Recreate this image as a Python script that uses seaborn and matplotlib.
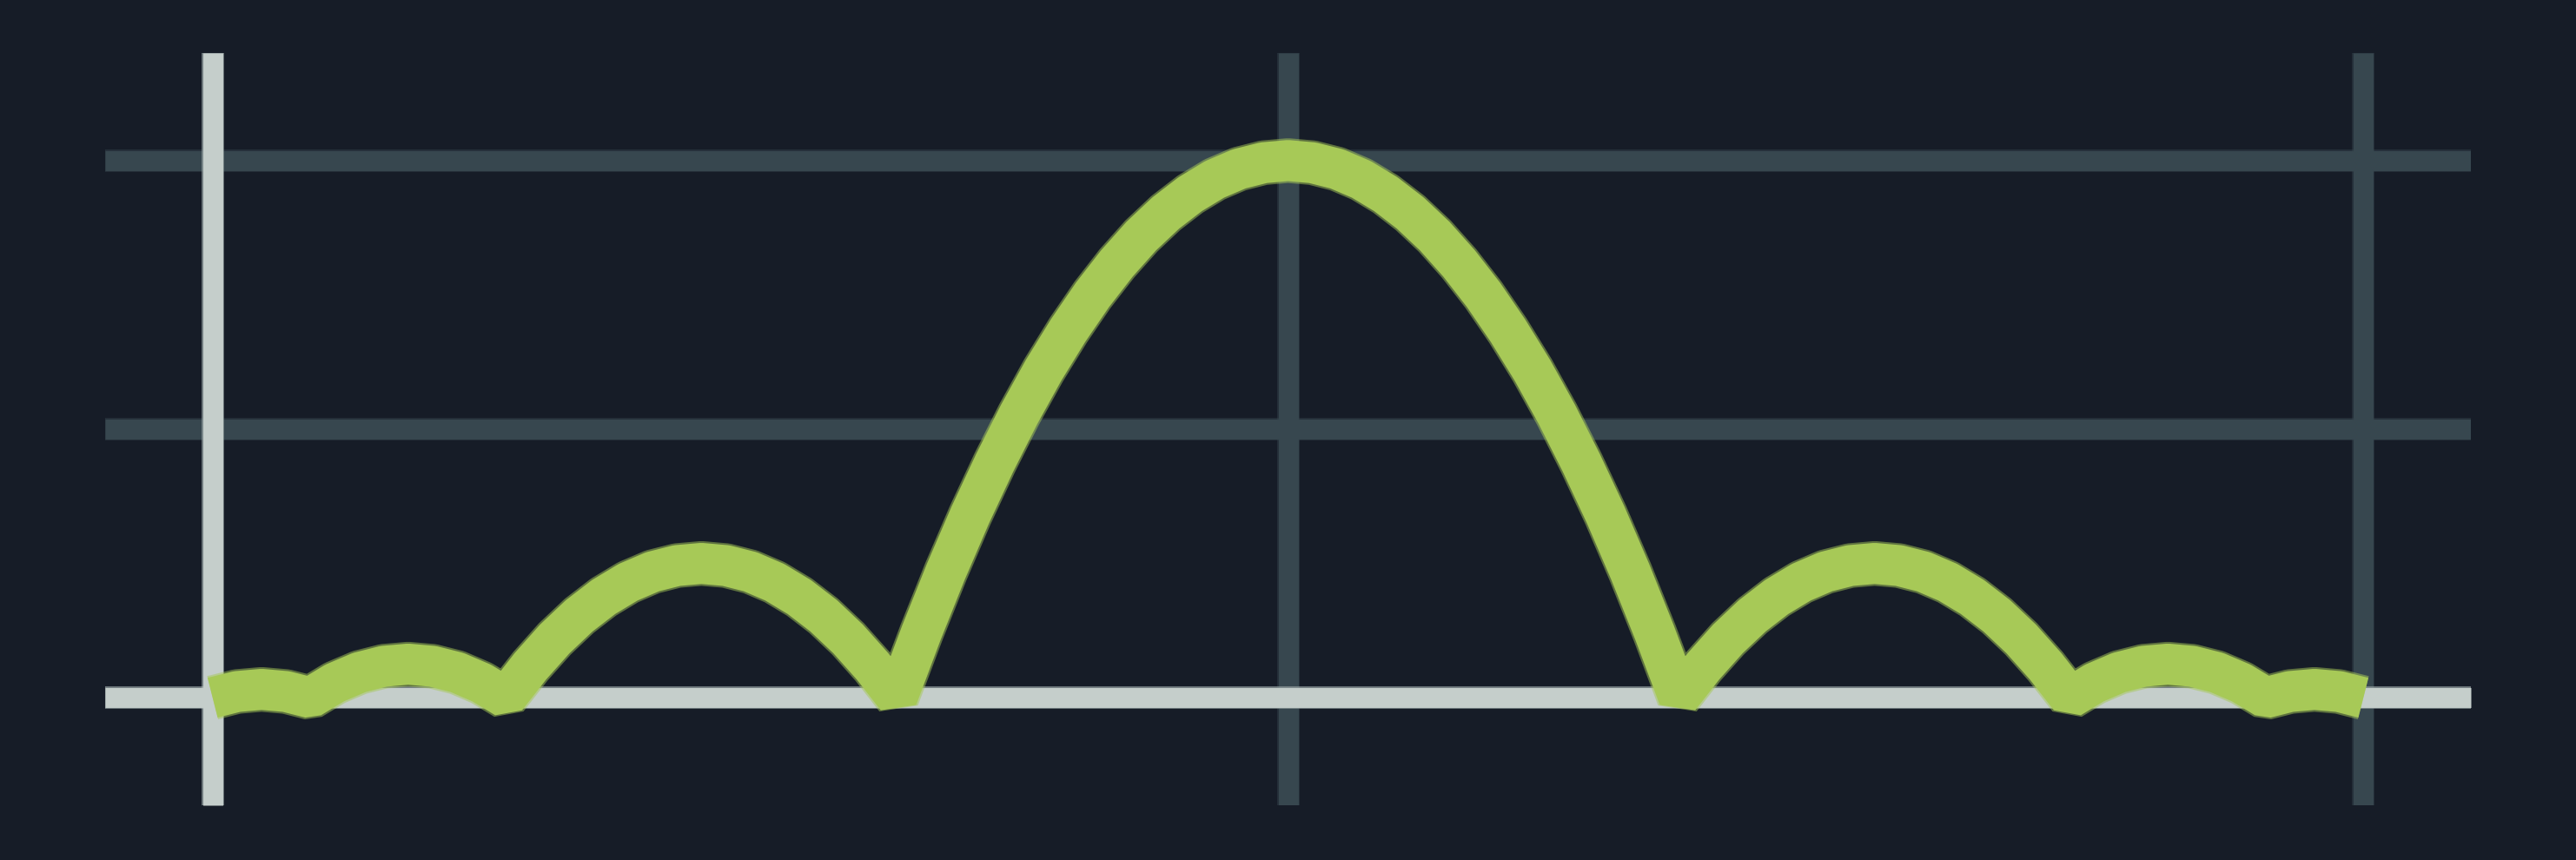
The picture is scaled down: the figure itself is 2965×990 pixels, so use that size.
import numpy as np
import seaborn as sns
import matplotlib.pyplot as plt
import matplotlib.patheffects as pe

# values (symmetric bounce curve)
x_vals = [-1.0, -0.9773, -0.9545, -0.9318, -0.9091, -0.8864, -0.8636, -0.8409, -0.8182,
          -0.7955, -0.7727, -0.75, -0.7273, -0.7045, -0.6818, -0.6591, -0.6364, -0.6136,
          -0.5909, -0.5682, -0.5455, -0.5227, -0.5, -0.4773, -0.4545, -0.4318, -0.4091,
          -0.3864, -0.3636, -0.3409, -0.3182, -0.2955, -0.2727, -0.25, -0.2273, -0.2045,
          -0.1818, -0.1591, -0.1364, -0.1136, -0.0909, -0.0682, -0.0455, -0.0227, 0.0,
          0.0227, 0.0455, 0.0682, 0.0909, 0.1136, 0.1364, 0.1591, 0.1818, 0.2045,
          0.2273, 0.25, 0.2727, 0.2955, 0.3182, 0.3409, 0.3636, 0.3864, 0.4091,
          0.4318, 0.4545, 0.4773, 0.5, 0.5227, 0.5455, 0.5682, 0.5909, 0.6136,
          0.6364, 0.6591, 0.6818, 0.7045, 0.7273, 0.75, 0.7727, 0.7955, 0.8182,
          0.8409, 0.8636, 0.8864, 0.9091, 0.9318, 0.9545, 0.9773, 1.0]
y_vals = [0.0, 0.023, 0.031, 0.023, 0.0, 0.055, 0.094, 0.117, 0.125,
          0.117, 0.094, 0.055, 0.0, 0.117, 0.219, 0.305, 0.375, 0.430,
          0.469, 0.492, 0.5, 0.492, 0.469, 0.430, 0.375, 0.305, 0.219,
          0.117, 0.0, 0.242, 0.469, 0.680, 0.875, 1.055, 1.219, 1.367,
          1.5, 1.617, 1.719, 1.805, 1.875, 1.930, 1.969, 1.992, 2.0,
          1.992, 1.969, 1.930, 1.875, 1.805, 1.719, 1.617, 1.5, 1.367,
          1.219, 1.055, 0.875, 0.680, 0.469, 0.242, 0.0, 0.117, 0.219,
          0.305, 0.375, 0.430, 0.469, 0.492, 0.5, 0.492, 0.469, 0.430,
          0.375, 0.305, 0.219, 0.117, 0.0, 0.055, 0.094, 0.117, 0.125,
          0.117, 0.094, 0.055, 0.0, 0.023, 0.031, 0.023, 0.0]
x_ticks = [-1, 0, 1]
y_ticks = [0, 1, 2]

bg = '#161c27'
grid_col = '#37474f'
axis_col = '#c5cecb'
green = '#a7c957'

sns.set_theme(style="dark", rc={'axes.facecolor': bg, 'figure.facecolor': bg})

fig = plt.figure(figsize=(29.65, 9.9), dpi=100)
ax = fig.add_axes([0.0408, 0.0638, 0.9184, 0.8744])

grid_lw = 16.5
ax.set_xlim(-1.1, 1.1)
ax.set_ylim(-0.4, 2.4)
ax.set_xticks(x_ticks)
ax.set_yticks(y_ticks)
ax.tick_params(length=0, labelbottom=False, labelleft=False)
ax.grid(True, color=grid_col, linewidth=grid_lw, solid_capstyle='butt',
        path_effects=[pe.Stroke(linewidth=grid_lw + 2, foreground=grid_col, alpha=0.5), pe.Normal()])

# light axis lines at x=-1 and y=0
for side in ['top', 'right']:
    ax.spines[side].set_visible(False)
ax.spines['left'].set_position(('data', -1))
ax.spines['bottom'].set_position(('data', 0))
for side in ['left', 'bottom']:
    sp = ax.spines[side]
    sp.set_color(axis_col)
    sp.set_linewidth(grid_lw)
    sp.set_capstyle('butt')
    sp.set_zorder(2.5)
    sp.set_path_effects([pe.Stroke(linewidth=grid_lw + 2, foreground=axis_col, alpha=0.5), pe.Normal()])

line_lw = 34
sns.lineplot(x=x_vals, y=y_vals, ax=ax, color=green, linewidth=line_lw,
             solid_capstyle='butt', solid_joinstyle='bevel', zorder=3,
             path_effects=[pe.Stroke(linewidth=line_lw + 3, foreground=green, alpha=0.5), pe.Normal()])

plt.savefig("out.png", dpi=100, facecolor=bg)
